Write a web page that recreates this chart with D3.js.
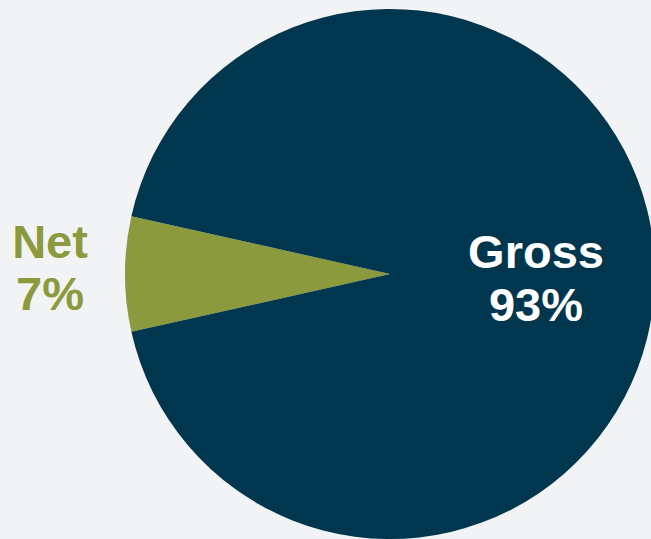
<!DOCTYPE html>
<html>
<head>
<meta charset="utf-8">
<script src="https://cdn.jsdelivr.net/npm/d3@7"></script>
<style>
  body { margin: 0; background: #f2f3f5; }
  text { font-family: "Liberation Sans", Arial, sans-serif; font-weight: bold; }
</style>
</head>
<body>
<div id="pie"></div>
<script>
// data
var labels = ["Net", "Gross"];
var values = [7, 93];
var colors = ["#8a9a3c", "#00374f"];

var width = 651,
    height = 539,
    radius = 265,
    cx = 390,
    cy = 274;

var svg = d3.select("#pie")
  .append("svg")
  .attr("width", width)
  .attr("height", height);

svg.append("rect")
  .attr("width", width)
  .attr("height", height)
  .attr("fill", "#f2f3f5");

var g = svg.append("g")
  .attr("transform", "translate(" + cx + "," + cy + ")");

// net slice centred on the left side
var netHalf = Math.PI * values[0] / d3.sum(values);
var pie = d3.pie()
  .sort(null)
  .startAngle(-Math.PI / 2 - netHalf)
  .endAngle(1.5 * Math.PI - netHalf)
  .value(d => d);

var arc = d3.arc().innerRadius(0).outerRadius(radius);

var slices = pie(values);

g.selectAll("path")
  .data(slices)
  .enter()
  .append("path")
  .attr("d", arc)
  .attr("fill", (d, i) => colors[i]);

// labels
var labelPos = [
  {x: 50 - cx, y: 258 - cy, fill: colors[0]},
  {x: 536 - cx, y: 268 - cy, fill: "#ffffff"}
];

slices.forEach(function(d, i) {
  var t = g.append("text")
    .attr("text-anchor", "middle")
    .attr("x", labelPos[i].x)
    .attr("y", labelPos[i].y)
    .attr("fill", labelPos[i].fill)
    .style("font-size", "47px");
  t.append("tspan")
    .attr("x", labelPos[i].x)
    .text(labels[i]);
  t.append("tspan")
    .attr("x", labelPos[i].x)
    .attr("dy", i == 0 ? 52 : 53)
    .text(values[i] + "%");
});
</script>
</body>
</html>
